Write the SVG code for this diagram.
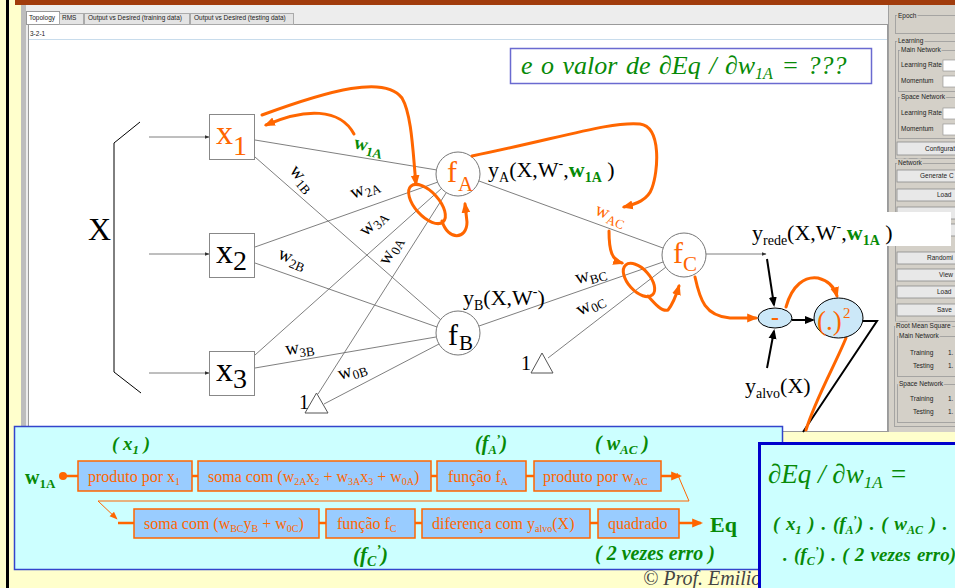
<svg xmlns="http://www.w3.org/2000/svg" width="955" height="588" viewBox="0 0 955 588">
<defs>
<style>
.ui{font-family:"Liberation Sans",Arial,sans-serif;font-size:6.5px;fill:#222}
.gl{font-family:"Liberation Sans",Arial,sans-serif;font-size:6.5px;fill:#222;stroke:#D4D0C8;stroke-width:3;paint-order:stroke}
.lab{font-family:"Liberation Serif","Times New Roman",serif;font-size:22px;fill:#000}
.wl{font-family:"Liberation Serif","Times New Roman",serif;font-size:19px;fill:#000}
.sf{font-family:"Liberation Serif","Times New Roman",serif}
.or{fill:#FF6600}
.gr{fill:#078A07}
.net{stroke:#707070;stroke-width:0.9;fill:none}
.oa{stroke:#FF6600;stroke-width:3;fill:none;stroke-linecap:round}
.ka{stroke:#000;stroke-width:2;fill:none}
.box{fill:#99CCFF;stroke:#FF6600;stroke-width:1.5}
.bt{font-family:"Liberation Serif","Times New Roman",serif;font-size:16px;fill:#FF6600}
.gi{font-family:"Liberation Serif","Times New Roman",serif;font-style:italic;font-weight:bold;fill:#078A07}
.btn{fill:#E8E8E8;stroke:#8A8A8A;stroke-width:0.8}
.grp{fill:none;stroke:#9A9A9A;stroke-width:0.8}
.inp{fill:#fff;stroke:#8A8A8A;stroke-width:0.6}
.stub{stroke:#FF6600;stroke-width:2.5}
</style>
<marker id="ao" viewBox="0 0 10 10" refX="8" refY="5" markerWidth="11" markerHeight="11" markerUnits="userSpaceOnUse" orient="auto"><path d="M0,1 L10,5 L0,9 z" fill="#FF6600"/></marker>
<marker id="aos" viewBox="0 0 10 10" refX="9" refY="5" markerWidth="8" markerHeight="8" markerUnits="userSpaceOnUse" orient="auto"><path d="M0,1 L10,5 L0,9 z" fill="#FF6600"/></marker>
<marker id="ak" viewBox="0 0 10 10" refX="8" refY="5" markerWidth="10" markerHeight="10" markerUnits="userSpaceOnUse" orient="auto"><path d="M0,1 L10,5 L0,9 z" fill="#000"/></marker>
<marker id="as" viewBox="0 0 10 10" refX="9" refY="5" markerWidth="5" markerHeight="5" markerUnits="userSpaceOnUse" orient="auto"><path d="M0,1 L10,5 L0,9 z" fill="#333"/></marker>
</defs>

<!-- slide background -->
<rect width="955" height="588" fill="#FFFFCC"/>
<rect x="6" y="0" width="3" height="588" fill="#000"/>

<!-- application window -->
<g id="window">
<rect x="21" y="4" width="934" height="428" fill="#EDEDED"/>
<rect x="21" y="4" width="5" height="428" fill="#BDBDBD"/>
<rect x="15" y="0" width="940" height="5" fill="#A13C0C"/>
<rect x="28.5" y="24.5" width="859" height="407" fill="#fff" stroke="#9A9A9A"/>
<line x1="29" y1="39.5" x2="887" y2="39.5" stroke="#C8DCEC"/>
<text class="ui" x="30" y="36">3-2-1</text>
<rect x="26.5" y="11.5" width="33" height="13" fill="#fff" stroke="#9A9A9A"/>
<text class="ui" x="29" y="20">Topology</text>
<rect x="59.5" y="13.5" width="24" height="11" fill="#E4E4E4" stroke="#AAA"/>
<text class="ui" x="62" y="20">RMS</text>
<rect x="84.5" y="13.5" width="105" height="11" fill="#E4E4E4" stroke="#AAA"/>
<text class="ui" x="88" y="20">Output vs Desired (training data)</text>
<rect x="190.5" y="13.5" width="103" height="11" fill="#E4E4E4" stroke="#AAA"/>
<text class="ui" x="194" y="20">Output vs Desired (testing data)</text>
</g>

<!-- right control panel -->
<g id="panel">
<rect x="888" y="5" width="67" height="427" fill="#D4D0C8"/>
<line x1="888.5" y1="5" x2="888.5" y2="432" stroke="#A0A0A0"/>
<rect class="grp" x="895.5" y="15.5" width="70" height="18"/>
<text class="gl" x="898" y="18">Epoch</text>
<rect class="grp" x="895.5" y="41.5" width="70" height="117"/>
<text class="gl" x="898" y="43">Learning</text>
<rect class="grp" x="898.5" y="50.5" width="70" height="41"/>
<text class="gl" x="901" y="52">Main Network</text>
<text class="ui" x="901" y="67">Learning Rate</text>
<rect class="inp" x="943" y="60" width="14" height="11"/>
<text class="ui" x="901" y="83">Momentum</text>
<rect class="inp" x="943" y="76" width="14" height="11"/>
<rect class="grp" x="898.5" y="97.5" width="70" height="41"/>
<text class="gl" x="901" y="99">Space Network</text>
<text class="ui" x="901" y="115">Learning Rate</text>
<rect class="inp" x="943" y="108" width="14" height="11"/>
<text class="ui" x="901" y="131">Momentum</text>
<rect class="inp" x="943" y="124" width="14" height="11"/>
<rect class="btn" x="897" y="142" width="63" height="13"/>
<text class="ui" x="925" y="151">Configurat</text>
<rect class="grp" x="895.5" y="163.5" width="70" height="158"/>
<text class="gl" x="898" y="165">Network</text>
<rect class="btn" x="897" y="170" width="63" height="12"/>
<text class="ui" x="920" y="178">Generate C</text>
<rect class="btn" x="897" y="189" width="63" height="12"/>
<text class="ui" x="937" y="197">Load</text>
<rect class="btn" x="897" y="207" width="63" height="12"/>
<rect class="btn" x="897" y="224" width="63" height="12"/>
<rect class="btn" x="897" y="252" width="63" height="12"/>
<text class="ui" x="927" y="260">Randomi</text>
<rect class="btn" x="897" y="269" width="63" height="12"/>
<text class="ui" x="939" y="277">View</text>
<rect class="btn" x="897" y="286" width="63" height="12"/>
<text class="ui" x="937" y="294">Load</text>
<rect class="btn" x="897" y="304" width="63" height="12"/>
<text class="ui" x="937" y="312">Save</text>
<rect class="grp" x="894.5" y="326.5" width="70" height="100"/>
<text class="gl" x="896" y="328">Root Mean Square</text>
<rect class="grp" x="897.5" y="336.5" width="70" height="40"/>
<text class="gl" x="899" y="338">Main Network</text>
<text class="ui" x="910" y="355">Training</text>
<text class="ui" x="948" y="355">1.</text>
<text class="ui" x="913" y="368">Testing</text>
<text class="ui" x="948" y="368">1.</text>
<rect class="grp" x="897.5" y="384.5" width="70" height="38"/>
<text class="gl" x="899" y="386">Space Network</text>
<text class="ui" x="910" y="401">Training</text>
<text class="ui" x="948" y="401">1.</text>
<text class="ui" x="913" y="414">Testing</text>
<text class="ui" x="948" y="414">1.</text>
</g>

<!-- input bracket -->
<g id="X">
<polyline points="140,122 114,143 114,372 141,393" fill="none" stroke="#000" stroke-width="1"/>
<text class="sf" x="88" y="240" font-size="32">X</text>
</g>

<!-- connectors -->
<g id="connectors">
<line class="net" stroke="#333" x1="149" y1="137" x2="209" y2="137" marker-end="url(#as)"/>
<line class="net" stroke="#333" x1="149" y1="254" x2="209" y2="254" marker-end="url(#as)"/>
<line class="net" stroke="#333" x1="149" y1="373" x2="209" y2="373" marker-end="url(#as)"/>
<line class="net" x1="255" y1="140" x2="437" y2="170"/>
<line class="net" x1="255" y1="157" x2="441" y2="320"/>
<line class="net" x1="255" y1="247" x2="438" y2="182"/>
<line class="net" x1="255" y1="263" x2="437" y2="327"/>
<line class="net" x1="255" y1="355" x2="442" y2="188"/>
<line class="net" x1="255" y1="368" x2="436" y2="337"/>
<line class="net" x1="318" y1="394" x2="446" y2="193"/>
<line class="net" x1="324" y1="404" x2="439" y2="344"/>
<line class="net" x1="479" y1="181" x2="663" y2="248"/>
<line class="net" x1="479" y1="326" x2="663" y2="262"/>
<line class="net" x1="548" y1="358" x2="666" y2="267"/>
<line class="net" stroke="#333" x1="706" y1="254" x2="766" y2="254" marker-end="url(#as)"/>
<line class="ka" x1="767" y1="259" x2="774" y2="305" marker-end="url(#ak)"/>
<line class="ka" x1="767" y1="368" x2="774" y2="331" marker-end="url(#ak)"/>
<line class="ka" x1="792" y1="320" x2="813" y2="320" marker-end="url(#ak)"/>
<polyline class="ka" points="862,321 877,321 803,432"/>
</g>

<!-- input nodes -->
<g id="x1">
<rect x="209.5" y="114.5" width="45" height="45" fill="#fff" stroke="#888"/>
<text class="sf or" x="216" y="144" font-size="34">x</text>
<text class="sf or" x="233" y="155" font-size="28">1</text>
</g>
<g id="x2">
<rect x="209.5" y="233.5" width="45" height="44" fill="#fff" stroke="#888"/>
<text class="sf" x="216" y="263" font-size="34">x</text>
<text class="sf" x="233" y="270" font-size="28">2</text>
</g>
<g id="x3">
<rect x="209.5" y="351.5" width="45" height="44" fill="#fff" stroke="#888"/>
<text class="sf" x="216" y="381" font-size="34">x</text>
<text class="sf" x="233" y="388" font-size="28">3</text>
</g>

<!-- bias nodes -->
<g id="bias1">
<polygon points="305,413 328,413 316.5,393" fill="#fff" stroke="#555"/>
<text class="sf" x="299" y="409" font-size="20">1</text>
</g>
<g id="bias2">
<polygon points="531,373 553,373 542,353" fill="#fff" stroke="#555"/>
<text class="sf" x="521" y="370" font-size="20">1</text>
</g>

<!-- neurons -->
<g id="fA">
<circle cx="458" cy="174" r="22" fill="#fff" stroke="#777"/>
<text class="sf or" x="447" y="182" font-size="30">f</text>
<text class="sf or" x="458" y="191" font-size="21">A</text>
</g>
<g id="fB">
<circle cx="458" cy="333" r="22" fill="#fff" stroke="#777"/>
<text class="sf" x="448" y="345" font-size="30">f</text>
<text class="sf" x="459" y="350" font-size="21">B</text>
</g>
<g id="fC">
<circle cx="684" cy="255" r="22" fill="#fff" stroke="#777"/>
<text class="sf or" x="673" y="263" font-size="30">f</text>
<text class="sf or" x="683" y="271" font-size="21">C</text>
</g>

<!-- weight labels -->
<g id="weights">
<text class="wl gr" font-weight="bold" transform="translate(353,148) rotate(14)">w<tspan dy="4" font-size="13">1A</tspan></text>
<text class="wl" transform="translate(289,171) rotate(50)">w<tspan dy="4" font-size="13">1B</tspan></text>
<text class="wl" transform="translate(353,199) rotate(-22)">w<tspan dy="4" font-size="13">2A</tspan></text>
<text class="wl" transform="translate(366,237) rotate(-45)">w<tspan dy="4" font-size="13">3A</tspan></text>
<text class="wl" transform="translate(388,266) rotate(-62)">w<tspan dy="4" font-size="13">0A</tspan></text>
<text class="wl" transform="translate(277,258) rotate(22)">w<tspan dy="4" font-size="13">2B</tspan></text>
<text class="wl" transform="translate(286,355) rotate(-7)">w<tspan dy="4" font-size="13">3B</tspan></text>
<text class="wl" transform="translate(340,380) rotate(-18)">w<tspan dy="4" font-size="13">0B</tspan></text>
<text class="wl" transform="translate(577,284) rotate(-15)">w<tspan dy="4" font-size="13">BC</tspan></text>
<text class="wl" transform="translate(580,316) rotate(-28)">w<tspan dy="4" font-size="13">0C</tspan></text>
<text class="wl or" transform="translate(594,214) rotate(22)">w<tspan dy="4" font-size="13">AC</tspan></text>
</g>

<!-- output labels -->
<g id="labels">
<text class="lab" x="488" y="177" font-size="23">y<tspan dy="5" font-size="14">A</tspan><tspan dy="-5">(X,W</tspan><tspan dy="-9" font-size="14">-</tspan><tspan dy="9">,</tspan><tspan class="gr" font-weight="bold">w</tspan><tspan class="gr" font-weight="bold" dy="5" font-size="14">1A</tspan><tspan dy="-5"> )</tspan></text>
<text class="lab" x="463" y="305">y<tspan dy="5" font-size="14">B</tspan><tspan dy="-5">(X,W</tspan><tspan dy="-9" font-size="14">-</tspan><tspan dy="9">)</tspan></text>
<text class="lab" x="745" y="393">y<tspan dy="5" font-size="14">alvo</tspan><tspan dy="-5">(X)</tspan></text>
</g>

<!-- orange annotations -->
<g id="annotations">
<path class="oa" d="M262,115 C330,90 385,75 402,98 C412,115 413,155 416,184" marker-end="url(#ao)"/>
<path class="oa" d="M354,134 C340,108 305,108 266,125" marker-end="url(#ao)"/>
<ellipse class="oa" cx="427" cy="204" rx="24" ry="12" transform="rotate(48 427 204)"/>
<path class="oa" d="M442,221 C448,241 467,240 467,222 L465,204" marker-end="url(#ao)"/>
<path class="oa" d="M472,156 C560,138 612,121 640,124 C662,127 658,172 652,188 C648,200 636,204 624,207" marker-end="url(#ao)"/>
<path class="oa" d="M609,231 C609,251 612,260 622,263" marker-end="url(#ao)"/>
<ellipse class="oa" cx="639" cy="280" rx="20" ry="11" transform="rotate(48 639 280)"/>
<path class="oa" d="M648,296 C655,304 662,312 668,310 C672,305 676,296 679,286" marker-end="url(#ao)"/>
<path class="oa" d="M695,277 C700,300 705,316 730,318 L756,318" marker-end="url(#ao)"/>
<path class="oa" d="M786,307 C792,285 805,276 818,278 C830,281 835,289 837,296" marker-end="url(#ao)"/>
<path class="oa" d="M846,338 C835,365 815,400 806,430"/>
</g>

<!-- error nodes -->
<g id="minus">
<ellipse cx="775" cy="318" rx="17" ry="10" fill="#CCE8F8" stroke="#000"/>
<text class="sf or" x="775" y="325" font-size="24" font-weight="bold" text-anchor="middle">-</text>
</g>
<g id="square">
<ellipse cx="838.5" cy="318" rx="24.5" ry="20" fill="#CCE8F8" stroke="#000"/>
<text class="sf or" x="817" y="330" font-size="27">(.)</text>
<text class="sf or" x="843" y="318" font-size="15">2</text>
</g>

<!-- question box -->
<g id="question">
<rect x="510.5" y="48.5" width="361" height="35" fill="#fff" stroke="#6A6AD0" stroke-width="1.5"/>
<text class="sf gr" x="521" y="74" font-size="26" font-style="italic" word-spacing="2">e o valor de ∂Eq / ∂w<tspan dy="5" font-size="16">1A</tspan><tspan dy="-5"> = ???</tspan></text>
</g>

<!-- y_rede label over panel -->
<g id="yrede">
<rect x="748" y="212" width="203" height="34" fill="#fff"/>
<text class="lab" x="752" y="240">y<tspan dy="5" font-size="14">rede</tspan><tspan dy="-5">(X,W</tspan><tspan dy="-9" font-size="14">-</tspan><tspan dy="9">,</tspan><tspan class="gr" font-weight="bold">w</tspan><tspan class="gr" font-weight="bold" dy="5" font-size="14">1A</tspan><tspan dy="-5"> )</tspan></text>
</g>

<text class="sf" x="643" y="585" font-size="20" font-style="italic" fill="#444">© Prof. Emilio</text>

<!-- chain rule flow -->
<g id="flow">
<rect x="14.5" y="426.5" width="768" height="143" fill="#CCFFFF" stroke="#3344CC" stroke-width="1.5"/>
<text class="gi" x="112" y="450" font-size="19">( x<tspan dy="4" font-size="13">1</tspan><tspan dy="-4"> )</tspan></text>
<text class="gi" x="475" y="450" font-size="20">(f<tspan dy="4" font-size="13">A</tspan><tspan dy="-11" font-size="13">’</tspan><tspan dy="7">)</tspan></text>
<text class="gi" x="595" y="450" font-size="20">( w<tspan dy="4" font-size="13">AC</tspan><tspan dy="-4"> )</tspan></text>
<text class="sf gr" x="25" y="484" font-size="20" font-weight="bold">w<tspan dy="4" font-size="13">1A</tspan></text>
<circle cx="63" cy="476" r="4" fill="#FF6600"/>
<line class="stub" x1="63" y1="476" x2="78" y2="476"/>
<g id="b1"><rect class="box" x="78" y="461" width="114" height="30"/><text class="bt" x="88" y="482">produto por x<tspan dy="3" font-size="10">1</tspan></text></g>
<line class="stub" x1="192" y1="476" x2="198" y2="476"/>
<g id="b2"><rect class="box" x="198" y="461" width="233" height="30"/><text class="bt" x="208" y="482">soma com (w<tspan dy="3" font-size="10">2A</tspan><tspan dy="-3">x</tspan><tspan dy="3" font-size="10">2</tspan><tspan dy="-3"> + w</tspan><tspan dy="3" font-size="10">3A</tspan><tspan dy="-3">x</tspan><tspan dy="3" font-size="10">3</tspan><tspan dy="-3"> + w</tspan><tspan dy="3" font-size="10">0A</tspan><tspan dy="-3">)</tspan></text></g>
<line class="stub" x1="431" y1="476" x2="437" y2="476"/>
<g id="b3"><rect class="box" x="437" y="461" width="89" height="30"/><text class="bt" x="448" y="482">função f<tspan dy="3" font-size="10">A</tspan></text></g>
<line class="stub" x1="526" y1="476" x2="534" y2="476"/>
<g id="b4"><rect class="box" x="534" y="461" width="127" height="30"/><text class="bt" x="543" y="482">produto por w<tspan dy="3" font-size="10">AC</tspan></text></g>
<line class="stub" x1="661" y1="476" x2="680" y2="476" marker-end="url(#ao)"/>
<polyline points="677,473 689,501 98,501 117,519" fill="none" stroke="#FF6600" stroke-width="1" marker-end="url(#aos)"/>
<line class="stub" x1="118" y1="523" x2="134" y2="523"/>
<g id="b5"><rect class="box" x="134" y="509" width="185" height="29"/><text class="bt" x="144" y="529">soma com (w<tspan dy="3" font-size="10">BC</tspan><tspan dy="-3">y</tspan><tspan dy="3" font-size="10">B</tspan><tspan dy="-3"> + w</tspan><tspan dy="3" font-size="10">0C</tspan><tspan dy="-3">)</tspan></text></g>
<line class="stub" x1="319" y1="523" x2="326" y2="523"/>
<g id="b6"><rect class="box" x="326" y="509" width="89" height="29"/><text class="bt" x="337" y="529">função f<tspan dy="3" font-size="10">C</tspan></text></g>
<line class="stub" x1="415" y1="523" x2="422" y2="523"/>
<g id="b7"><rect class="box" x="422" y="509" width="168" height="29"/><text class="bt" x="432" y="529">diferença com y<tspan dy="3" font-size="10">alvo</tspan><tspan dy="-3">(X)</tspan></text></g>
<line class="stub" x1="590" y1="523" x2="598" y2="523"/>
<g id="b8"><rect class="box" x="598" y="509" width="81" height="29"/><text class="bt" x="608" y="529">quadrado</text></g>
<line class="stub" x1="679" y1="523" x2="701" y2="523" marker-end="url(#ao)"/>
<text class="sf gr" x="710" y="532" font-size="22" font-weight="bold">Eq</text>
<text class="gi" x="353" y="562" font-size="21">(f<tspan dy="4" font-size="14">C</tspan><tspan dy="-11" font-size="14">’</tspan><tspan dy="7">)</tspan></text>
<text class="gi" x="595" y="560" font-size="20">( 2 vezes erro )</text>
</g>

<!-- result box -->
<g id="result">
<rect x="759.5" y="443.5" width="200" height="150" fill="#CCFFFF" stroke="#0000CC" stroke-width="3"/>
<text class="sf gr" x="768" y="483" font-size="27" font-style="italic">∂Eq / ∂w<tspan dy="5" font-size="17">1A</tspan><tspan dy="-5"> =</tspan></text>
<text class="gi" x="773" y="530" font-size="19" word-spacing="2">( x<tspan dy="4" font-size="12">1</tspan><tspan dy="-4"> ) . (f</tspan><tspan dy="4" font-size="12">A</tspan><tspan dy="-10" font-size="12">’</tspan><tspan dy="6">) . ( w</tspan><tspan dy="4" font-size="12">AC</tspan><tspan dy="-4"> ) .</tspan></text>
<text class="gi" x="783" y="561" font-size="19" word-spacing="1.5">. (f<tspan dy="4" font-size="12">C</tspan><tspan dy="-10" font-size="12">’</tspan><tspan dy="6">) . ( 2 vezes erro)</tspan></text>
</g>
</svg>
